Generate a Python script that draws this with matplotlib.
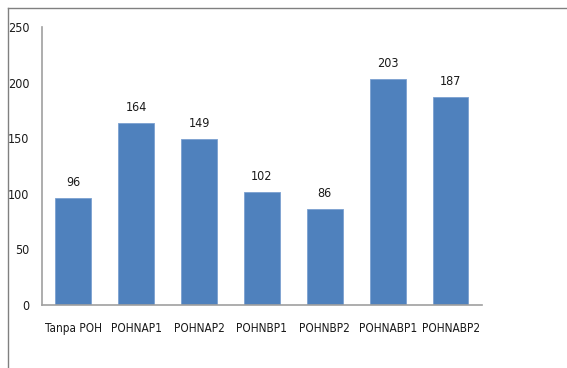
import matplotlib.pyplot as plt
from matplotlib.lines import Line2D
import numpy as np

categories = ['Tanpa POH', 'POHNAP1', 'POHNAP2', 'POHNBP1', 'POHNBP2', 'POHNABP1', 'POHNABP2']
values = [96, 164, 149, 102, 86, 203, 187]
yticks = [0, 50, 100, 150, 200, 250]

plt.rcParams['font.family'] = ['DejaVu Sans']
plt.rcParams['font.stretch'] = 'condensed'

fig = plt.figure(figsize=(5.67, 3.68), dpi=100)
ax = fig.add_axes([0.074, 0.171, 0.776, 0.756])

x = np.arange(len(categories))
bars = ax.bar(x, values, width=0.57, color='#4F81BD', edgecolor='#7BA0D0', linewidth=0.6)
for xi, v in zip(x, values):
    ax.text(xi, v + 8, str(v), ha='center', va='bottom', fontsize=9, color='#1a1a1a')

ax.set_xlim(-0.5, len(categories) - 0.5)
ax.set_ylim(0, 250)
ax.set_yticks(yticks)
ax.set_xticks(x)
ax.set_xticklabels(categories, fontsize=8.5, color='#1a1a1a')
ax.tick_params(axis='x', length=0, pad=12)
ax.tick_params(axis='y', length=0, pad=9, labelsize=9, labelcolor='#1a1a1a')

for s in ['top', 'right']:
    ax.spines[s].set_visible(False)
for s in ['left', 'bottom']:
    ax.spines[s].set_color('#A0A0A0')
    ax.spines[s].set_linewidth(1.2)

# outer frame around the chart area
fig.add_artist(Line2D([8 / 567, 8 / 567], [0, 1 - 8 / 368], transform=fig.transFigure, color='#808080', lw=1))
fig.add_artist(Line2D([8 / 567, 1], [1 - 8 / 368, 1 - 8 / 368], transform=fig.transFigure, color='#808080', lw=1))

fig.savefig('out.png', dpi=100)
